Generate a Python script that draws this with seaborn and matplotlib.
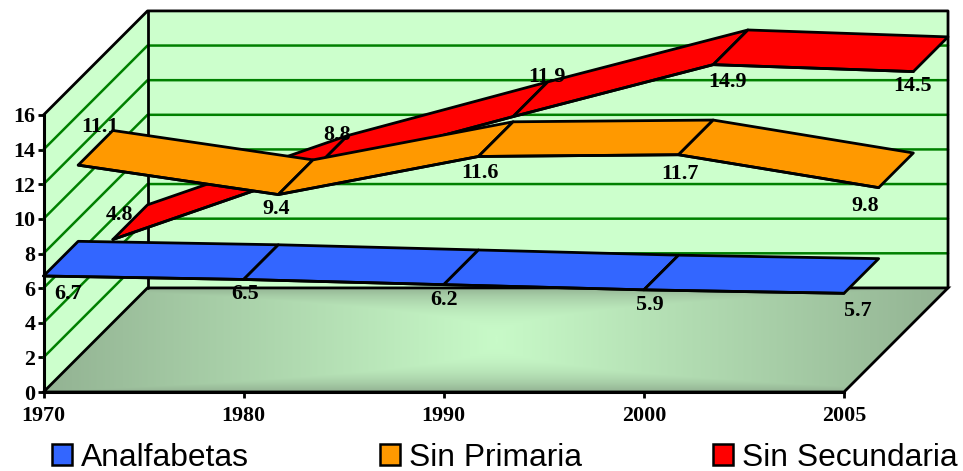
import numpy as np
import pandas as pd
import matplotlib
matplotlib.use('Agg')
import matplotlib.pyplot as plt
from matplotlib.colors import LinearSegmentedColormap
from matplotlib.patches import Patch, Polygon
import seaborn as sns

years = ['1970', '1980', '1990', '2000', '2005']
analfabetas = [6.7, 6.5, 6.2, 5.9, 5.7]
sin_primaria = [11.1, 9.4, 11.6, 11.7, 9.8]
sin_secundaria = [4.8, 8.8, 11.9, 14.9, 14.5]
series_names = ['Analfabetas', 'Sin Primaria', 'Sin Secundaria']
y_ticks = [0, 2, 4, 6, 8, 10, 12, 14, 16]

# label offsets from the front edge of each ribbon, in pixels
analfabetas_off = [(25, -18), (1, -15), (0, -15), (6, -15), (14, -18)]
primaria_off = [(22, 38), (-2, -14), (2, -17), (1, -19), (-13, -18)]
secundaria_off = [(7, 25), (24, 35), (34, 40), (14, -17), (-1, -14)]

colors = ['#3366ff', '#ff9900', '#ff0000']
WALL = '#ccffcc'
GRID = '#008000'
EDGE_LW = 2.0
LABEL_SIZE = 15.8

# oblique projection: full depth of the box in axis units
DX = 104 / 200.1
DY = 104 / 17.3

sns.set_theme(style='white')
plt.rcParams['font.family'] = ['Liberation Serif', 'DejaVu Serif']
plt.rcParams['text.color'] = 'black'

fig = plt.figure(figsize=(9.63, 4.71), dpi=100)
ax = fig.add_axes([43.5 / 963, (471 - 392) / 471, 800.5 / 963, 277 / 471])
ax.patch.set_visible(False)
n = len(years)
x = np.arange(n)
right = n - 1

# walls
ax.fill([DX, right + DX, right + DX, DX], [DY, DY, 16 + DY, 16 + DY],
        color=WALL, lw=0, clip_on=False, zorder=0.5)
ax.fill([0, DX, DX, 0], [0, DY, 16 + DY, 16],
        color=WALL, lw=0, clip_on=False, zorder=0.5)

for t in y_ticks[1:-1]:
    ax.plot([0, DX, right + DX], [t, t + DY, t + DY], color=GRID, lw=1.8,
            clip_on=False, zorder=0.8)

# floor
cmap = LinearSegmentedColormap.from_list('floor', ['#93b393', '#c8fac8'])
px = np.linspace(-1, 1, 300)
py = np.linspace(-1, 1, 120)
gx, gy = np.meshgrid(px, py)
shade = 1 - np.maximum(np.abs(gx), np.abs(gy) ** 2.5)
im = ax.imshow(shade, extent=[0, right + DX, 0, DY], origin='lower', aspect='auto',
               cmap=cmap, vmin=0, vmax=1, zorder=1, interpolation='bilinear')
floor = Polygon([(0, 0), (right, 0), (right + DX, DY), (DX, DY)], closed=True,
                transform=ax.transData, fc='none', ec='black', lw=EDGE_LW,
                clip_on=False, zorder=1.2)
ax.add_patch(floor)
im.set_clip_box(fig.bbox)
im.set_clip_path(floor)

# box outline
ax.plot([0, DX, right + DX, right + DX], [16, 16 + DY, 16 + DY, DY],
        color='black', lw=EDGE_LW, clip_on=False, zorder=1.3)
ax.plot([DX, DX], [DY, 16 + DY], color='black', lw=EDGE_LW, clip_on=False, zorder=1.3)

all_values = [analfabetas, sin_primaria, sin_secundaria]
all_offsets = [analfabetas_off, primaria_off, secundaria_off]

for k, values in enumerate(all_values):
    d0 = k / 3
    d1 = (k + 1) / 3
    z = 5 - k
    v = np.array(values)
    for i in range(n - 1):
        ax.fill([x[i] + d0 * DX, x[i + 1] + d0 * DX, x[i + 1] + d1 * DX, x[i] + d1 * DX],
                [v[i] + d0 * DY, v[i + 1] + d0 * DY, v[i + 1] + d1 * DY, v[i] + d1 * DY],
                fc=colors[k], ec='black', lw=EDGE_LW, joinstyle='round',
                clip_on=False, zorder=z)
    front = pd.DataFrame({'x': x + d0 * DX, 'y': v + d0 * DY})
    sns.lineplot(data=front, x='x', y='y', color='black', lw=EDGE_LW, ax=ax,
                 clip_on=False, zorder=z + 0.1, errorbar=None)
    for i in range(n):
        ax.annotate(f'{values[i]:.1f}', (x[i] + d0 * DX, v[i] + d0 * DY),
                    xytext=all_offsets[k][i], textcoords='offset pixels',
                    ha='center', va='center', fontsize=LABEL_SIZE, fontweight='bold',
                    color='black', zorder=10, annotation_clip=False)

ax.set_xlim(0, right)
ax.set_ylim(0, 16)
ax.set_xlabel('')
ax.set_ylabel('')
ax.set_xticks(x)
ax.set_xticklabels(years)
ax.set_yticks(y_ticks)
ax.tick_params(axis='both', direction='out', length=4, width=EDGE_LW, color='black',
               labelsize=LABEL_SIZE, bottom=True, left=True)
ax.tick_params(axis='x', pad=6)
ax.tick_params(axis='y', pad=2)
for lab in ax.get_xticklabels() + ax.get_yticklabels():
    lab.set_fontweight('bold')
    lab.set_color('black')
for side in ['top', 'right']:
    ax.spines[side].set_visible(False)
for side in ['left', 'bottom']:
    ax.spines[side].set_color('black')
    ax.spines[side].set_linewidth(EDGE_LW + 0.2)

handles = [Patch(fc=c, ec='black', lw=1.8, label=s) for c, s in zip(colors, series_names)]
fig.legend(handles=handles, loc='center', bbox_to_anchor=(505 / 963, (471 - 458) / 471),
           ncol=3, frameon=False, prop={'family': 'Liberation Sans', 'size': 22.9},
           handlelength=0.63, handleheight=0.63, handletextpad=0.27, columnspacing=4.13,
           borderpad=0, borderaxespad=0)

plt.savefig('out.png', dpi=100)
